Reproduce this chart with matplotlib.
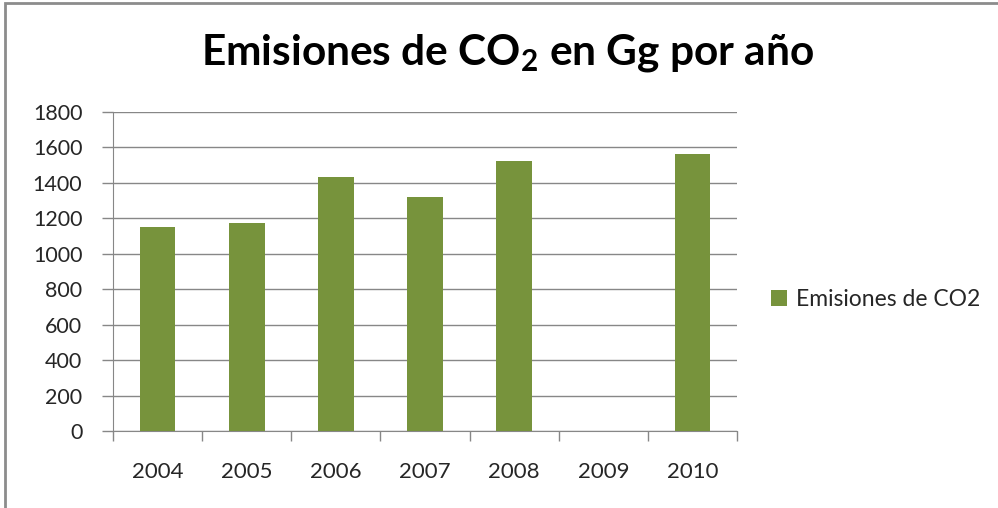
import numpy as np
import matplotlib
matplotlib.use("Agg")
import matplotlib.pyplot as plt
from matplotlib.patches import Patch, Rectangle

# datos
years = ["2004", "2005", "2006", "2007", "2008", "2009", "2010"]
emisiones = [1150, 1172, 1432, 1322, 1522, 0, 1563]
y_ticks = [0, 200, 400, 600, 800, 1000, 1200, 1400, 1600, 1800]

verde = "#77933C"
gris = "#878787"
texto = "#262626"

plt.rcParams["font.family"] = ["Lato", "DejaVu Sans"]

fig = plt.figure(figsize=(9.98, 5.08), dpi=100)
ax = fig.add_axes([0.1132, 0.1516, 0.7385 - 0.1132, 0.7795 - 0.1516])

x = np.arange(len(years))
ax.bar(x, emisiones, width=0.4, color=verde, zorder=3)

ax.set_xlim(-0.5, len(years) - 0.5)
ax.set_ylim(0, 1800)
ax.set_yticks(y_ticks)
ax.set_yticklabels([str(v) for v in y_ticks], fontsize=15.5, color=texto)
ax.set_xticks(x)
ax.set_xticklabels(years, fontsize=16, color=texto)
ax.set_xticks(np.arange(-0.5, len(years), 1.0), minor=True)
ax.tick_params(axis="x", which="major", length=0, pad=22)
ax.tick_params(axis="x", which="minor", length=7, color=gris, width=1)
ax.tick_params(axis="y", length=8, color=gris, width=1, pad=14)

ax.grid(axis="y", color=gris, linewidth=1, zorder=0)
for s in ["top", "right"]:
    ax.spines[s].set_visible(False)
ax.spines["left"].set_color(gris)
ax.spines["bottom"].set_color(gris)

fig.text(0.509, 0.895, r"Emisiones de CO$_\mathregular{2}$ en Gg por año",
         fontsize=30.5, fontweight="bold", ha="center", va="center", color="black")

handle = Patch(facecolor=verde, edgecolor="none")
fig.legend([handle], ["Emisiones de CO2"], loc="center left",
           bbox_to_anchor=(0.752, 0.41), frameon=False, fontsize=16.5,
           handlelength=0.7, handleheight=0.7, handletextpad=0.4,
           labelcolor=texto)

# borde del area del grafico
fig.add_artist(Rectangle((0.005, -0.05), 1.2, 1.044, transform=fig.transFigure,
                         fill=False, edgecolor="#8c8c8c", linewidth=2))

fig.savefig("out.png", dpi=100)
